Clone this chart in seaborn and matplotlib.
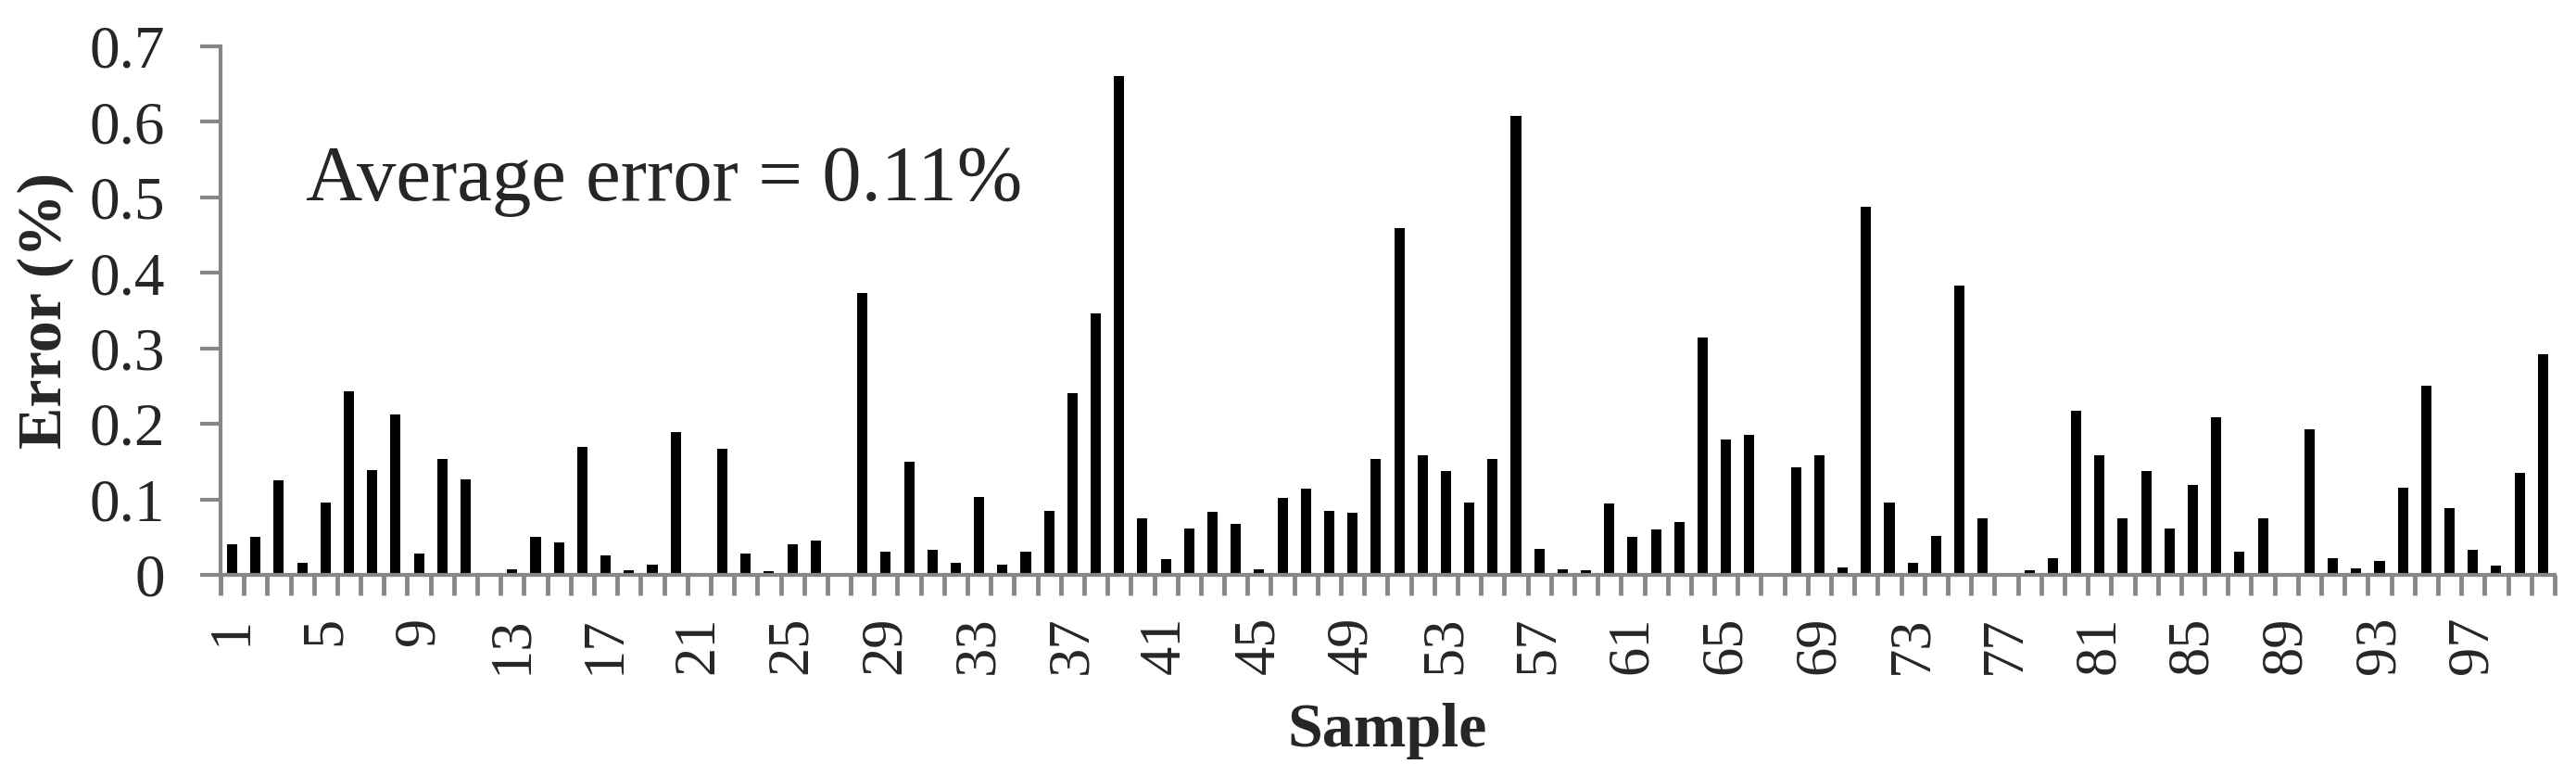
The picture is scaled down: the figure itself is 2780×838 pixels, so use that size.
import matplotlib
matplotlib.use("Agg")
import matplotlib.pyplot as plt
import seaborn as sns
import numpy as np
import pandas as pd

samples = [str(i) for i in range(1, 101)]
errors = [
    0.041, 0.051, 0.125, 0.016, 0.096, 0.243, 0.139, 0.212, 0.028, 0.153,
    0.126, 0.0, 0.007, 0.051, 0.043, 0.169, 0.026, 0.006, 0.013, 0.189,
    0.0, 0.167, 0.028, 0.005, 0.041, 0.046, 0.0, 0.373, 0.031, 0.150,
    0.033, 0.016, 0.103, 0.013, 0.031, 0.085, 0.241, 0.346, 0.661, 0.075,
    0.021, 0.062, 0.083, 0.068, 0.007, 0.102, 0.114, 0.085, 0.082, 0.153,
    0.459, 0.159, 0.138, 0.096, 0.153, 0.608, 0.035, 0.007, 0.006, 0.094,
    0.051, 0.060, 0.070, 0.314, 0.179, 0.186, 0.0, 0.142, 0.159, 0.010,
    0.487, 0.096, 0.016, 0.052, 0.383, 0.075, 0.0, 0.006, 0.022, 0.217,
    0.159, 0.075, 0.138, 0.062, 0.119, 0.209, 0.031, 0.075, 0.0, 0.193,
    0.022, 0.009, 0.018, 0.115, 0.251, 0.089, 0.033, 0.012, 0.135, 0.292,
]
y_ticks = [0, 0.1, 0.2, 0.3, 0.4, 0.5, 0.6, 0.7]
y_tick_labels = ["0", "0.1", "0.2", "0.3", "0.4", "0.5", "0.6", "0.7"]
x_label_step = 4
annotation = "Average error = 0.11%"

sns.set_theme(style="white")
plt.rcParams["font.family"] = ["Liberation Serif", "DejaVu Serif"]

df = pd.DataFrame({"Sample": samples, "Error": errors})

fig = plt.figure(figsize=(27.8, 8.38), dpi=100)
ax = fig.add_axes([0.0856, 0.2601, 0.9917 - 0.0856, 0.9403 - 0.2601])

sns.barplot(data=df, x="Sample", y="Error", color="black", width=0.44,
            linewidth=0, saturation=1, ax=ax, order=samples)

grey = "#878787"
ax.set_xlim(-0.5, len(samples) - 0.5)
ax.set_ylim(0, 0.7)

for side in ["top", "right"]:
    ax.spines[side].set_visible(False)
for side in ["left", "bottom"]:
    ax.spines[side].set_color(grey)
    ax.spines[side].set_linewidth(3)

ax.set_yticks(y_ticks)
ax.set_yticklabels(y_tick_labels, fontsize=47)
ax.tick_params(axis="y", which="major", direction="out", length=16, width=3,
               color=grey, pad=27, left=True)

pos = list(range(0, len(samples), x_label_step))
ax.set_xticks(pos)
ax.set_xticklabels([samples[p] for p in pos], rotation=90, fontsize=45)
ax.tick_params(axis="x", which="major", length=0, pad=32)
ax.set_xticks(np.arange(-0.5, len(samples), 1.0), minor=True)
ax.tick_params(axis="x", which="minor", direction="out", length=16, width=3.5,
               color=grey, bottom=True)

ax.set_xlabel("Sample", fontsize=49, fontweight="bold", labelpad=22)
ax.set_ylabel("Error (%)", fontsize=49, fontweight="bold", labelpad=12)

ax.text(0.0365, 0.708, annotation, transform=ax.transAxes, fontsize=61,
        va="baseline", ha="left")

fig.savefig("out.png", dpi=100, facecolor="white")
